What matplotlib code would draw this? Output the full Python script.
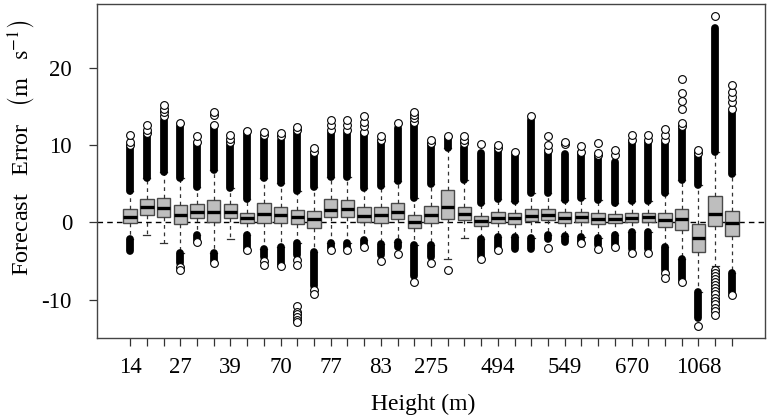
import numpy as np
import matplotlib
matplotlib.use("Agg")
import matplotlib.pyplot as plt

plt.rcParams['font.family'] = ['Liberation Serif', 'DejaVu Serif']
plt.rcParams['mathtext.fontset'] = 'stix'

# ---- data ----
tick_labels = ['14', '', '', '27', '', '', '39', '', '', '70', '', '', '77', '', '',
               '83', '', '', '275', '', '', '', '494', '', '', '', '549', '', '', '',
               '670', '', '', '', '1068', '', '']

q1 = [-0.05, 0.94, 0.73, -0.22, 0.60, 0.08, 0.52, -0.05, -0.13, -0.13, -0.26, -0.78,
      0.65, 0.65, 0.08, -0.05, 0.39, -0.78, -0.13, 0.43, 0.30, -0.48, -0.13, -0.22,
      0.17, 0.30, -0.05, 0.00, -0.26, -0.05, 0.08, 0.08, -0.65, -1.00, -3.90, -0.48, -1.77]
med = [0.73, 1.94, 1.90, 0.94, 1.33, 1.37, 1.37, 0.60, 1.03, 0.94, 0.65, 0.39,
       1.60, 1.68, 0.81, 0.94, 1.37, 0.08, 0.94, 1.94, 1.03, 0.17, 0.52, 0.52,
       0.86, 0.94, 0.52, 0.65, 0.39, 0.39, 0.60, 0.65, 0.30, 0.43, -1.99, 1.03, -0.05]
q3 = [1.68, 3.00, 3.20, 2.30, 2.37, 2.90, 2.37, 1.24, 2.45, 2.00, 1.60, 1.46,
      3.00, 2.90, 1.94, 1.94, 2.45, 0.94, 2.10, 4.20, 2.00, 0.86, 1.29, 1.16,
      1.72, 1.68, 1.29, 1.37, 1.16, 1.03, 1.16, 1.16, 1.16, 1.68, -0.26, 3.44, 1.50]
whisk_hi = [4.0, 5.7, 6.5, 5.7, 4.6, 6.8, 4.4, 3.0, 5.7, 5.1, 4.0, 4.6,
            5.9, 5.9, 4.4, 4.7, 5.3, 3.1, 5.0, 9.6, 5.5, 2.5, 3.0, 2.8,
            3.75, 3.75, 2.9, 3.1, 2.9, 2.5, 2.7, 2.7, 3.75, 5.5, 4.8, 9.1, 6.3]
whisk_lo = [-2.1, -1.64, -2.7, -4.0, -1.7, -4.0, -2.2, -1.7, -3.4, -3.2, -2.7, -3.8,
            -2.7, -2.7, -2.3, -2.8, -2.6, -2.9, -2.9, -4.8, -2.07, -2.2, -1.9, -1.9,
            -2.07, -1.6, -1.8, -1.9, -2.0, -1.7, -1.2, -1.2, -3.2, -4.8, -9.0, -5.7, -6.6]
# top of the dense run of upper outliers (starts at the upper whisker)
upper_dense_top = [9.8, 11.3, 13.2, 12.4, 10.2, 12.4, 10.0, 11.7, 10.9, 10.6, 11.7, 8.9,
                   11.5, 11.5, 11.5, 10.4, 12.2, 12.8, 10.0, 10.9, 9.8, 8.9, 9.35, 8.7,
                   13.2, 9.1, 8.8, 8.9, 8.5, 7.8, 10.4, 10.4, 10.2, 12.2, 8.9, 25.1, 14.3]
# bottom of the dense run of lower outliers (nan = no dense run)
lower_dense_bot = [-3.7, np.nan, np.nan, -5.3, -2.3, -5.0, np.nan, -3.4, -4.5, -5.5, -4.2, -8.3,
                   -3.3, -3.3, -2.9, -4.2, -3.2, -7.0, -4.5, np.nan, np.nan, -4.5, -3.4, -3.5,
                   -3.5, -2.2, -2.5, -2.6, -3.0, -2.9, -3.4, -3.4, -6.2, -7.5, -12.4, np.nan, -9.2]
upper_iso = [[10.0, 10.4, 11.3], [11.5, 11.9, 12.6], [13.7, 14.3, 14.7, 15.2], [12.8],
             [10.4, 11.1], [12.6, 13.9, 14.3], [10.4, 10.8, 11.3], [11.8], [11.3, 11.7],
             [11.1, 11.5], [11.9, 12.3], [9.1, 9.6], [11.9, 12.6, 13.2], [11.9, 12.6, 13.2],
             [11.7, 12.4, 13.0, 13.7], [10.6, 11.1], [12.8], [13.0, 13.5, 13.9, 14.3],
             [10.2, 10.6], [11.1], [10.2, 10.6, 11.1], [10.1], [9.6, 10.0], [9.1], [13.7],
             [9.35, 10.0, 11.1], [10.1, 10.4], [9.1, 9.9], [8.7, 9.0, 10.3], [8.7, 9.3],
             [10.7, 11.3], [10.7, 11.3], [10.6, 11.3, 12.1],
             [12.4, 12.8, 14.7, 15.7, 16.7, 18.5], [9.0, 9.4], [26.7],
             [14.7, 15.6, 16.2, 16.9, 17.8]]
lower_iso = [[], [], [], [-5.8, -6.2], [-2.6], [-5.3], [], [-3.6], [-5.0, -5.5], [-5.7],
             [-4.9, -5.5, -10.8, -11.6, -11.9, -12.3, -12.6, -12.9], [-8.8, -9.3],
             [-3.6], [-3.6], [-3.2], [-5.0], [-4.1], [-7.7], [-5.3], [-6.2], [], [-4.7],
             [-3.6], [], [], [-3.3], [], [-2.7], [-3.4], [-3.2], [-4.0], [-4.0],
             [-6.6, -7.2], [-7.7], [-13.4],
             [-6.2, -6.5, -6.9, -7.3, -7.7, -8.1, -8.5, -8.9, -9.3, -9.8, -10.2, -10.6,
              -11.1, -11.5, -12.0],
             [-9.4]]

n = len(q1)
pos = np.arange(n)

fig = plt.figure(figsize=(7.68, 4.19), dpi=100)
ax = fig.add_axes([97 / 768, 1 - 338 / 419, (765 - 97) / 768, (338 - 4) / 419])

ax.axhline(0, color='black', lw=1.0, ls=(0, (4, 3)), zorder=1)

stats = []
for i in range(n):
    stats.append(dict(med=med[i], q1=q1[i], q3=q3[i],
                      whislo=whisk_lo[i], whishi=whisk_hi[i], fliers=[]))

ax.bxp(stats, positions=pos, widths=0.8, patch_artist=True, showfliers=False,
       boxprops=dict(facecolor='#BEBEBE', edgecolor='#4a4a4a', linewidth=1.0),
       medianprops=dict(color='black', linewidth=2.4, solid_capstyle='butt'),
       whiskerprops=dict(color='#333333', linewidth=0.9, linestyle=(0, (3, 3))),
       capprops=dict(color='#333333', linewidth=0.9),
       capwidths=0.4, zorder=2)

# dense runs of outliers (overlapping circles look like solid black pills)
for i in range(n):
    ax.plot([pos[i], pos[i]], [whisk_hi[i], upper_dense_top[i]], color='black',
            lw=5.6, solid_capstyle='round', zorder=3)
    if not np.isnan(lower_dense_bot[i]):
        ax.plot([pos[i], pos[i]], [whisk_lo[i], lower_dense_bot[i]], color='black',
                lw=5.6, solid_capstyle='round', zorder=3)
    pts = upper_iso[i] + lower_iso[i]
    if pts:
        ax.plot([pos[i]] * len(pts), pts, ls='none', marker='o', ms=5.6,
                mfc='white', mec='black', mew=0.8, zorder=4)

ax.set_xlim(-1.98, n + 0.98)
ax.set_ylim(-14.97, 28.24)
ax.set_xticks(pos)
ax.set_xticklabels(tick_labels)
ax.set_yticks([-10, 0, 10, 20])
ax.set_yticklabels(['-10', '0', '10', '20'])
ax.tick_params(axis='both', direction='out', length=6, width=0.9, colors='#333333',
               labelsize=16.5, labelcolor='black')
ax.tick_params(axis='x', pad=8)
ax.tick_params(axis='y', pad=12)
for s in ax.spines.values():
    s.set_color('#444444')
    s.set_linewidth(1.0)

ax.set_xlabel('Height (m)', fontsize=17)
ax.xaxis.set_label_coords(0.488, -0.168)
ax.set_ylabel(r'Forecast   Error   $\left(\mathrm{m\ \ \ s}^{-1}_{\ }\right)$', fontsize=17.5)
ax.yaxis.set_label_coords(-0.09, 0.57)

fig.savefig('out.png', dpi=100)
